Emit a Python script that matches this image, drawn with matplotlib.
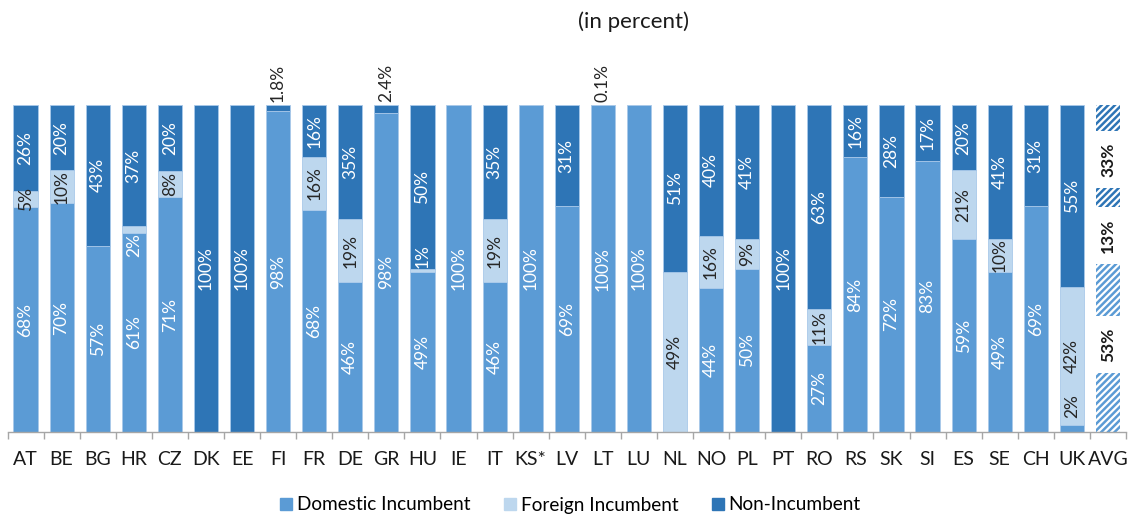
import matplotlib
matplotlib.use("Agg")
import matplotlib.pyplot as plt
import numpy as np

plt.rcParams['font.family'] = ['Lato', 'DejaVu Sans']
plt.rcParams['hatch.linewidth'] = 1.8

categories = ["AT", "BE", "BG", "HR", "CZ", "DK", "EE", "FI", "FR", "DE", "GR", "HU", "IE", "IT",
              "KS*", "LV", "LT", "LU", "NL", "NO", "PL", "PT", "RO", "RS", "SK", "SI", "ES", "SE",
              "CH", "UK", "AVG"]
domestic = [68, 70, 57, 61, 71, 0, 0, 98, 68, 46, 98, 49, 100, 46, 100, 69, 100, 100, 0, 44, 50, 0,
            27, 84, 72, 83, 59, 49, 69, 2, 53]
foreign = [5, 10, 0, 2, 8, 0, 0, 0, 16, 19, 0, 1, 0, 19, 0, 0, 0, 0, 49, 16, 9, 0,
           11, 0, 0, 0, 21, 10, 0, 42, 13]
non_incumbent = [26, 20, 43, 37, 20, 100, 100, 1.8, 16, 35, 2.4, 50, 0, 35, 0, 31, 0.1, 0, 51, 40, 41, 100,
                 63, 16, 28, 17, 20, 41, 31, 55, 33]
series_names = ["Domestic Incumbent", "Foreign Incumbent", "Non-Incumbent"]
colors = ["#5B9BD5", "#BDD7EE", "#2E75B6"]
label_colors = ["white", "#262626", "white"]

fig = plt.figure(figsize=(11.28, 5.17), dpi=100)
ax = fig.add_axes([7.5 / 1128, (517 - 432) / 517, 1118.5 / 1128, 327 / 517])

n = len(categories)
x = np.arange(n)
data = np.array([domestic, foreign, non_incumbent], dtype=float)
totals = data.sum(axis=0)
norm = data / totals * 100
width = 0.67
fs = 12.5

bottoms = np.zeros(n)
for s in range(3):
    for i in range(n):
        h = norm[s, i]
        if h <= 0:
            continue
        if categories[i] == "AVG":
            ax.bar(x[i], h, width, bottom=bottoms[i], color="white",
                   edgecolor=["#5B9BD5", "#2E75B6", "#2E75B6"][s], hatch="/////", linewidth=0)
        else:
            ax.bar(x[i], h, width, bottom=bottoms[i], color=colors[s],
                   edgecolor="#A9C9EA", linewidth=0.6)
    bottoms += norm[s]

# value labels
bottoms = np.zeros(n)
for s in range(3):
    for i in range(n):
        v = data[s, i]
        h = norm[s, i]
        b = bottoms[i]
        cat = categories[i]
        if v <= 0:
            continue
        if cat == "AVG":
            ax.text(x[i], b + h / 2, f"{v:.0f}%", rotation=90, ha="center", va="center",
                    fontsize=fs, fontweight="bold", color="#1a1a1a",
                    bbox=dict(boxstyle="square,pad=0.65", fc="white", ec="none"))
            continue
        if v < 3 and s == 2:
            # small non-incumbent share: label above bar
            ax.text(x[i], 100.8, f"{v:g}%", rotation=90, ha="center", va="bottom",
                    fontsize=fs, color="#262626", clip_on=False)
            continue
        txt = f"{v:.0f}%"
        col = label_colors[s]
        if cat == "HR" and s == 1:
            ax.text(x[i], b - 0.3, txt, rotation=90, ha="center", va="top", fontsize=fs, color="white")
        elif cat == "HU" and s == 1:
            ax.text(x[i], b + h + 0.3, txt, rotation=90, ha="center", va="bottom", fontsize=fs, color="white")
        elif cat == "UK" and s == 0:
            ax.text(x[i], b + h + 2.2, txt, rotation=90, ha="center", va="bottom", fontsize=fs, color="#262626")
        else:
            ax.text(x[i], b + h / 2, txt, rotation=90, ha="center", va="center", fontsize=fs, color=col)
    bottoms += norm[s]

ax.set_xlim(-0.5, n - 0.5)
ax.set_ylim(0, 100)
for sp in ["top", "right", "left"]:
    ax.spines[sp].set_visible(False)
ax.spines["bottom"].set_color("#A6A6A6")
ax.spines["bottom"].set_linewidth(1.0)
ax.set_yticks([])
ax.set_xticks(np.arange(-0.5, n, 1.0))
ax.set_xticklabels([])
ax.tick_params(axis="x", length=5, color="#A6A6A6", width=1.0)
for i, c in enumerate(categories):
    ax.text(x[i], -8.5, c, ha="center", va="center", fontsize=14, color="#1a1a1a", clip_on=False)

fig.text(633 / 1128, 1 - 22 / 517, "(in percent)", ha="center", va="center", fontsize=16, color="#1a1a1a")

handles = [plt.Rectangle((0, 0), 1, 1, color=c) for c in colors]
fig.legend(handles, series_names, loc="center", bbox_to_anchor=(570.5 / 1128, 1 - 505 / 517), ncol=3,
           frameon=False, fontsize=13.7, handlelength=0.63, handleheight=0.63, handletextpad=0.26,
           columnspacing=1.75, borderpad=0, borderaxespad=0)

fig.savefig("out.png", dpi=100)
